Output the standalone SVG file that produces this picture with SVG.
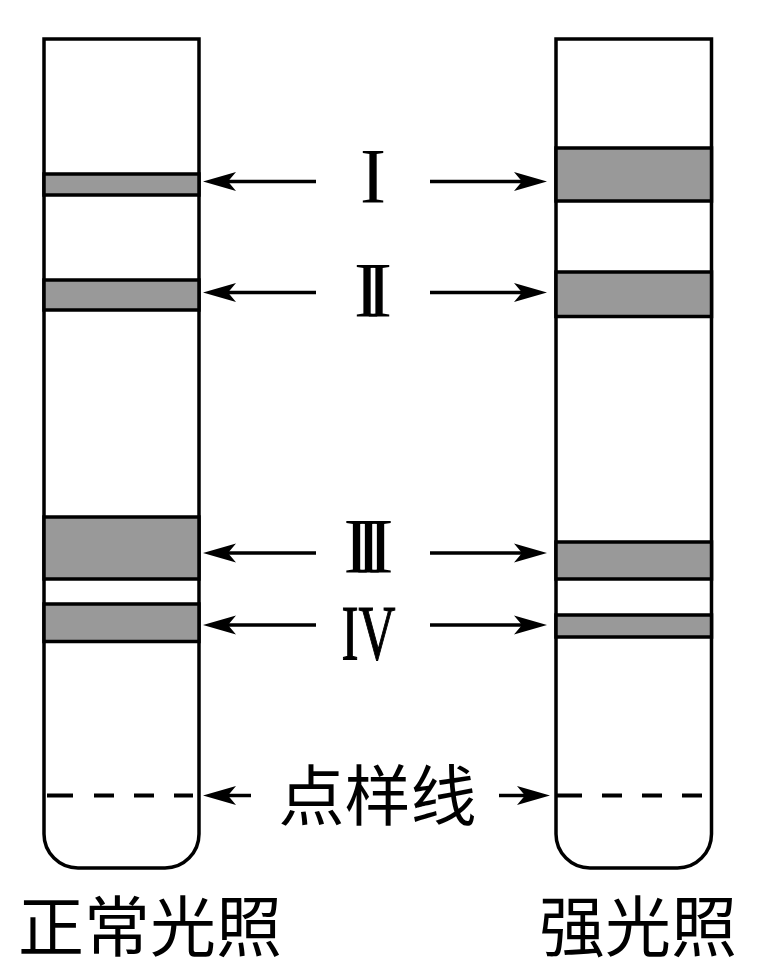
<svg xmlns="http://www.w3.org/2000/svg" width="767" height="978" viewBox="0 0 767 978">
<style>
.tube{fill:#fff;stroke:#000;stroke-width:3.5}
.band{fill:#999;stroke:#000;stroke-width:3.5}
.dash{stroke:#000;stroke-width:4;fill:none}
.arr{stroke:#000;stroke-width:3.5;fill:none;marker-end:url(#ah)}
.rn{font-family:"Liberation Serif","Times New Roman",serif;font-size:78px;fill:#000;text-anchor:middle}
.cn{font-family:"Noto Sans CJK SC","Noto Sans CJK JP",sans-serif;font-size:66px;fill:#000}
</style>
<defs>
<marker id="ah" markerUnits="userSpaceOnUse" orient="auto" refX="0" refY="0" markerWidth="60" markerHeight="30" viewBox="-20 -15 60 30" overflow="visible">
<path d="M20,0 L-13,-9.5 L-5,0 L-13,9.5 Z" fill="#000"/>
</marker>
</defs>
<g id="tube-normal">
<path class="tube" d="M44,39 L44,834 A34,34 0 0 0 78,868 L165,868 A34,34 0 0 0 199,834 L199,39 Z"/>
<rect class="band" x="44" y="174" width="155" height="21"/>
<rect class="band" x="44" y="280" width="155" height="30"/>
<rect class="band" x="44" y="517" width="155" height="62"/>
<rect class="band" x="44" y="604" width="155" height="37.5"/>
<path class="dash" d="M47,795.5 H193" stroke-dasharray="26 21 20 20 20 20 20"/>
</g>
<g id="tube-strong">
<path class="tube" d="M556,39 L556,834 A34,34 0 0 0 590,868 L677.5,868 A34,34 0 0 0 711.5,834 L711.5,39 Z"/>
<rect class="band" x="556" y="148" width="155.5" height="53"/>
<rect class="band" x="556" y="272" width="155.5" height="44.5"/>
<rect class="band" x="556" y="542" width="155.5" height="37"/>
<rect class="band" x="556" y="615" width="155.5" height="22"/>
<path class="dash" d="M557,795.5 H702" stroke-dasharray="25 20 20 20 20 20 20"/>
</g>
<g id="connectors">
<line class="arr" x1="316" y1="181.5" x2="223" y2="181.5"/>
<line class="arr" x1="430" y1="181.5" x2="527" y2="181.5"/>
<line class="arr" x1="316" y1="292.5" x2="223" y2="292.5"/>
<line class="arr" x1="430" y1="292.5" x2="527" y2="292.5"/>
<line class="arr" x1="316" y1="553" x2="223" y2="553"/>
<line class="arr" x1="430" y1="553" x2="527" y2="553"/>
<line class="arr" x1="316" y1="625" x2="223" y2="625"/>
<line class="arr" x1="430" y1="625" x2="527" y2="625"/>
<line class="arr" x1="251" y1="795.5" x2="223" y2="795.5"/>
<line class="arr" x1="499" y1="795.5" x2="530" y2="795.5"/>
</g>
<g id="label-I"><text class="rn" x="373" y="202">I</text></g>
<g id="label-II"><text class="rn" x="373" y="316" textLength="38" lengthAdjust="spacing">II</text></g>
<g id="label-III"><text class="rn" x="368.5" y="572" textLength="50" lengthAdjust="spacing">III</text></g>
<g id="label-IV"><text class="rn" x="368.5" y="659" textLength="54" lengthAdjust="spacingAndGlyphs" stroke="#000" stroke-width="1.2">IV</text></g>
<g id="label-origin"><text class="cn" x="377.5" y="820" text-anchor="middle">点样线</text></g>
<g id="label-normal"><text class="cn" x="18" y="951">正常光照</text></g>
<g id="label-strong"><text class="cn" x="539" y="951">强光照</text></g>
</svg>
